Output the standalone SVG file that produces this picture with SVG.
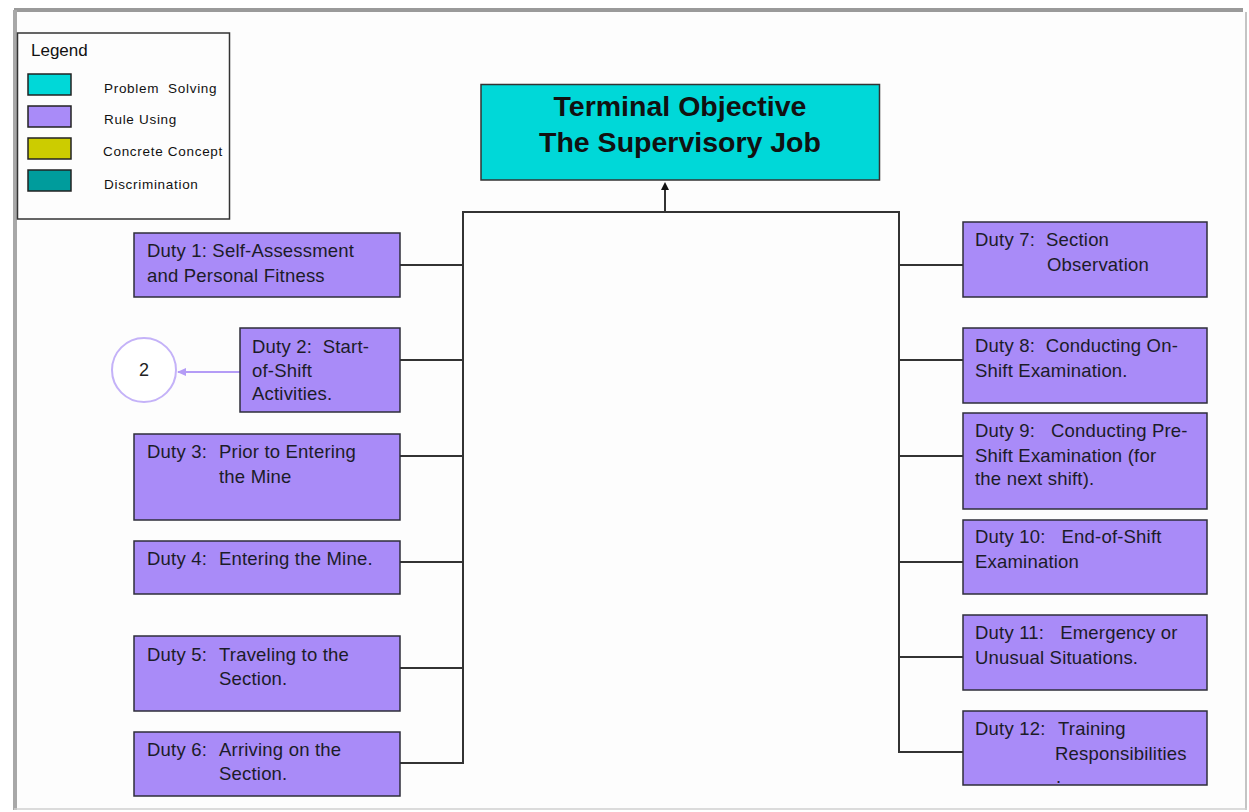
<svg xmlns="http://www.w3.org/2000/svg" width="1249" height="812" viewBox="0 0 1249 812">
  <style>
    text { white-space: pre; }
    .duty { fill: #a98bf8; stroke: #2e2e3a; stroke-width: 1.5; }
    .dt { font-family: "Liberation Sans", Arial, sans-serif; font-size: 18.5px; letter-spacing: 0.2px; fill: #1c1c28; }
    .lg { font-family: "Liberation Sans", Arial, sans-serif; font-size: 13.5px; letter-spacing: 0.7px; fill: #111; }
    .sw { stroke: #222; stroke-width: 1.5; }
    .conn { stroke: #333; stroke-width: 2; fill: none; }
  </style>
  <defs>
    <marker id="arrowBlack" markerWidth="8" markerHeight="8" refX="4" refY="4" orient="auto" markerUnits="userSpaceOnUse">
      <path d="M0,0 L8,4 L0,8 z" fill="#111"/>
    </marker>
    <marker id="arrowLilac" markerWidth="10" markerHeight="10" refX="8" refY="5" orient="auto" markerUnits="userSpaceOnUse">
      <path d="M0,1 L9,5 L0,9 z" fill="#b49cf6"/>
    </marker>
  </defs>

  <!-- page background and frame -->
  <rect x="0" y="0" width="1249" height="812" fill="#ffffff"/>
  <rect x="15" y="11" width="1231" height="798" fill="#fdfdfd" stroke="none"/>
  <line x1="14" y1="10" x2="1243" y2="10" stroke="#9a9a9a" stroke-width="4"/>
  <line x1="15" y1="10" x2="15" y2="810" stroke="#a8a8a8" stroke-width="4"/>
  <line x1="1246" y1="12" x2="1246" y2="810" stroke="#c4c4c4" stroke-width="2"/>
  <line x1="14" y1="809" x2="1247" y2="809" stroke="#cfcfcf" stroke-width="1.5"/>

  <!-- legend -->
  <g id="legend">
    <rect x="17.5" y="33" width="212" height="186" fill="#fdfdfd" stroke="#333" stroke-width="1.5"/>
    <text x="31" y="56" font-family="Liberation Sans, Arial, sans-serif" font-size="17" fill="#111">Legend</text>
    <rect class="sw" x="28" y="74" width="43" height="21" fill="#00d8d8"/>
    <rect class="sw" x="28" y="106" width="43" height="21" fill="#a98bf8"/>
    <rect class="sw" x="28" y="138" width="43" height="21" fill="#cccc00"/>
    <rect class="sw" x="28" y="170" width="43" height="21" fill="#009c9c"/>
    <text class="lg" x="104" y="93">Problem  Solving</text>
    <text class="lg" x="104" y="124">Rule Using</text>
    <text class="lg" x="103" y="156">Concrete Concept</text>
    <text class="lg" x="104" y="189">Discrimination</text>
  </g>

  <!-- terminal objective -->
  <g id="terminal">
    <rect x="481" y="84.5" width="398.5" height="95.5" fill="#00d8d8" stroke="#333" stroke-width="1.5"/>
    <text x="680" y="116" text-anchor="middle" font-family="Liberation Sans, Arial, sans-serif" font-size="28.5" font-weight="bold" fill="#111">Terminal Objective</text>
    <text x="680" y="152" text-anchor="middle" font-family="Liberation Sans, Arial, sans-serif" font-size="28.5" font-weight="bold" fill="#111">The Supervisory Job</text>
  </g>

  <!-- connectors -->
  <g id="connectors">
    <line class="conn" x1="665" y1="212" x2="665" y2="186" marker-end="url(#arrowBlack)"/>
    <polyline class="conn" points="463,764 463,212 899,212 899,753"/>
    <line class="conn" x1="400" y1="265" x2="463" y2="265"/>
    <line class="conn" x1="400" y1="360" x2="463" y2="360"/>
    <line class="conn" x1="400" y1="456" x2="463" y2="456"/>
    <line class="conn" x1="400" y1="562" x2="463" y2="562"/>
    <line class="conn" x1="400" y1="668" x2="463" y2="668"/>
    <line class="conn" x1="400" y1="763" x2="463" y2="763"/>
    <line class="conn" x1="899" y1="265" x2="963" y2="265"/>
    <line class="conn" x1="899" y1="360" x2="963" y2="360"/>
    <line class="conn" x1="899" y1="456" x2="963" y2="456"/>
    <line class="conn" x1="899" y1="562" x2="963" y2="562"/>
    <line class="conn" x1="899" y1="657" x2="963" y2="657"/>
    <line class="conn" x1="899" y1="752" x2="963" y2="752"/>
    <line x1="240" y1="372" x2="178" y2="372" stroke="#b49cf6" stroke-width="2" marker-end="url(#arrowLilac)"/>
  </g>

  <!-- off-page reference -->
  <g id="ref2">
    <circle cx="144" cy="370" r="32" fill="#ffffff" stroke="#c4b2f8" stroke-width="2"/>
    <text x="144" y="376" text-anchor="middle" font-family="Liberation Sans, Arial, sans-serif" font-size="18" fill="#222">2</text>
  </g>

  <!-- left duties -->
  <g id="duty1">
    <rect class="duty" x="134" y="233" width="266" height="64"/>
    <text class="dt" x="147" y="257">Duty 1: Self-Assessment</text>
    <text class="dt" x="147" y="282">and Personal Fitness</text>
  </g>
  <g id="duty2">
    <rect class="duty" x="240" y="328" width="160" height="84"/>
    <text class="dt" x="252" y="353">Duty 2:  Start-</text>
    <text class="dt" x="252" y="377">of-Shift</text>
    <text class="dt" x="252" y="400">Activities.</text>
  </g>
  <g id="duty3">
    <rect class="duty" x="134" y="434" width="266" height="86"/>
    <text class="dt" x="147" y="458">Duty 3:</text>
    <text class="dt" x="219" y="458">Prior to Entering</text>
    <text class="dt" x="219" y="483">the Mine</text>
  </g>
  <g id="duty4">
    <rect class="duty" x="134" y="541" width="266" height="53"/>
    <text class="dt" x="147" y="565">Duty 4:</text>
    <text class="dt" x="219" y="565">Entering the Mine.</text>
  </g>
  <g id="duty5">
    <rect class="duty" x="134" y="636" width="266" height="75"/>
    <text class="dt" x="147" y="661">Duty 5:</text>
    <text class="dt" x="219" y="661">Traveling to the</text>
    <text class="dt" x="219" y="685">Section.</text>
  </g>
  <g id="duty6">
    <rect class="duty" x="134" y="732" width="266" height="64"/>
    <text class="dt" x="147" y="756">Duty 6:</text>
    <text class="dt" x="219" y="756">Arriving on the</text>
    <text class="dt" x="219" y="780">Section.</text>
  </g>

  <!-- right duties -->
  <g id="duty7">
    <rect class="duty" x="963" y="222" width="244" height="75"/>
    <text class="dt" x="975" y="246">Duty 7:</text>
    <text class="dt" x="1046" y="246">Section</text>
    <text class="dt" x="1047" y="271">Observation</text>
  </g>
  <g id="duty8">
    <rect class="duty" x="963" y="328" width="244" height="75"/>
    <text class="dt" x="975" y="352">Duty 8:  Conducting On-</text>
    <text class="dt" x="975" y="377">Shift Examination.</text>
  </g>
  <g id="duty9">
    <rect class="duty" x="963" y="413" width="244" height="96"/>
    <text class="dt" x="975" y="437">Duty 9:   Conducting Pre-</text>
    <text class="dt" x="975" y="462">Shift Examination (for</text>
    <text class="dt" x="975" y="485">the next shift).</text>
  </g>
  <g id="duty10">
    <rect class="duty" x="963" y="520" width="244" height="74"/>
    <text class="dt" x="975" y="543">Duty 10:   End-of-Shift</text>
    <text class="dt" x="975" y="568">Examination</text>
  </g>
  <g id="duty11">
    <rect class="duty" x="963" y="615" width="244" height="75"/>
    <text class="dt" x="975" y="639">Duty 11:   Emergency or</text>
    <text class="dt" x="975" y="664">Unusual Situations.</text>
  </g>
  <g id="duty12">
    <rect class="duty" x="963" y="711" width="244" height="74"/>
    <text class="dt" x="975" y="735">Duty 12:</text>
    <text class="dt" x="1058" y="735">Training</text>
    <text class="dt" x="1055" y="760">Responsibilities</text>
    <text class="dt" x="1056" y="783">.</text>
  </g>
</svg>
